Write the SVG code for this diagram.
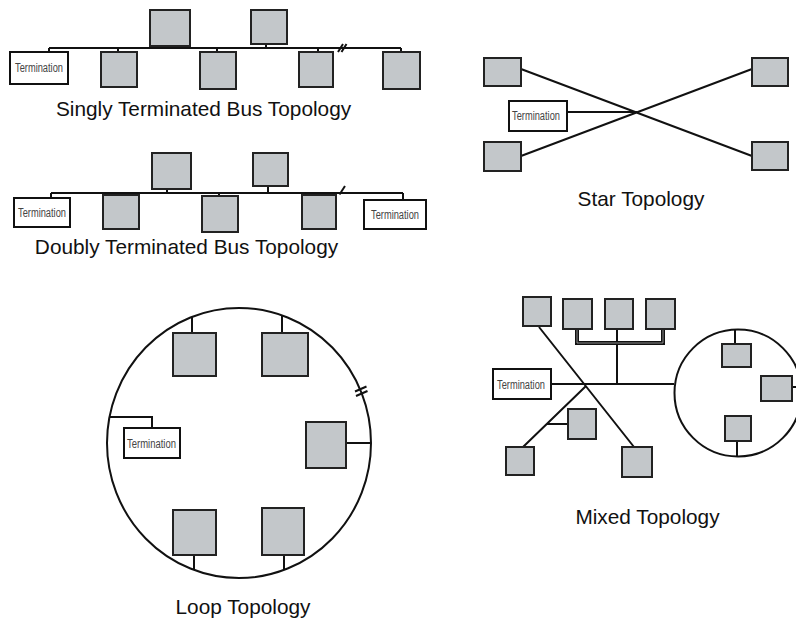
<svg xmlns="http://www.w3.org/2000/svg" width="796" height="620" viewBox="0 0 796 620">
<style>
.n{fill:#c3c7ca;stroke:#222;stroke-width:2}
.t{fill:#fff;stroke:#111;stroke-width:2}
.tt{font-family:"Liberation Sans",Arial,sans-serif;font-size:12px;fill:#444}
.c{fill:none;stroke:#111;stroke-width:2}
.cap{font-family:"Liberation Sans",Arial,sans-serif;font-size:20.8px;fill:#111;text-anchor:middle}
</style>
<rect width="796" height="620" fill="#fff"/>
<g id="connectors">
<!-- singly bus -->
<path class="c" d="M49,48H401M49,48V52M118,48V52M167,46V48M217,48V52M266,44V48M318,48V52M401,48V52"/>
<path class="c" d="M338,52L343,44M341.5,52L346.5,44" stroke-width="1.8"/>
<!-- doubly bus -->
<path class="c" d="M51,193H403M51,193V198M120,193V195M167,189V193M219,193V196M268,186V193M318,193V195M403,193V200"/>
<path class="c" d="M339.5,194.5L345,186" stroke-width="2.8"/>
<!-- star -->
<path class="c" d="M521,69L752,156M521,156L752,69M567,112H637"/>
<!-- loop -->
<ellipse class="c" cx="239" cy="443" rx="132" ry="135"/>
<path class="c" d="M192,317V333M282,315V333M346,443H371M194,555V569.5M284,555V570M109.5,417H152V428"/>
<path class="c" d="M355,391.5L366.5,386.5M356,396L367.5,391" stroke-width="1.8"/>
<!-- mixed -->
<path class="c" d="M539,327L634,447M586,386L523,447M551,384H674M617,329V384M547,424H568"/>
<path d="M577,329V343H663V329" fill="none" stroke="#111" stroke-width="4"/>
<path d="M577,329V343H663V329" fill="none" stroke="#aaa" stroke-width="0.8"/>
<circle class="c" cx="738" cy="393" r="63.5"/>
<path class="c" d="M735,329.5V344M792,387H797M737,441V456.5"/>
</g>
<!-- singly terminated bus -->
<g id="s-term"><rect class="t" x="10" y="52" width="58" height="32"/><text class="tt" x="15" y="72" textLength="48" lengthAdjust="spacingAndGlyphs">Termination</text></g>
<g id="s-a"><rect class="n" x="150" y="10" width="40" height="36"/></g>
<g id="s-b"><rect class="n" x="251" y="10" width="36" height="34"/></g>
<g id="s-1"><rect class="n" x="101" y="52" width="36" height="35"/></g>
<g id="s-2"><rect class="n" x="200" y="52" width="36" height="37"/></g>
<g id="s-3"><rect class="n" x="299" y="52" width="34" height="35"/></g>
<g id="s-4"><rect class="n" x="383" y="52" width="37" height="37"/></g>
<text class="cap" x="203.5" y="115.5">Singly Terminated Bus Topology</text>
<!-- doubly terminated bus -->
<g id="d-term1"><rect class="t" x="14" y="198" width="56" height="29"/><text class="tt" x="18" y="216.5" textLength="48" lengthAdjust="spacingAndGlyphs">Termination</text></g>
<g id="d-term2"><rect class="t" x="364" y="200" width="62" height="29"/><text class="tt" x="371" y="218.5" textLength="48" lengthAdjust="spacingAndGlyphs">Termination</text></g>
<g id="d-a"><rect class="n" x="152" y="153" width="39" height="36"/></g>
<g id="d-b"><rect class="n" x="253" y="153" width="35" height="33"/></g>
<g id="d-1"><rect class="n" x="103" y="195" width="36" height="34"/></g>
<g id="d-2"><rect class="n" x="202" y="196" width="36" height="36"/></g>
<g id="d-3"><rect class="n" x="302" y="195" width="34" height="34"/></g>
<text class="cap" x="186.5" y="254">Doubly Terminated Bus Topology</text>
<!-- star -->
<g id="st-tl"><rect class="n" x="484" y="58" width="37" height="28"/></g>
<g id="st-bl"><rect class="n" x="484" y="142" width="37" height="29"/></g>
<g id="st-tr"><rect class="n" x="752" y="58" width="36" height="28"/></g>
<g id="st-br"><rect class="n" x="752" y="142" width="36" height="28"/></g>
<g id="st-term"><rect class="t" x="509" y="101" width="58" height="30"/><text class="tt" x="512" y="120" textLength="48" lengthAdjust="spacingAndGlyphs">Termination</text></g>
<text class="cap" x="641" y="206">Star Topology</text>
<!-- loop -->
<g id="l-1"><rect class="n" x="173" y="333" width="43" height="43"/></g>
<g id="l-2"><rect class="n" x="262" y="333" width="46" height="43"/></g>
<g id="l-3"><rect class="n" x="306" y="422" width="40" height="46"/></g>
<g id="l-4"><rect class="n" x="173" y="510" width="43" height="45"/></g>
<g id="l-5"><rect class="n" x="262" y="508" width="42" height="47"/></g>
<g id="l-term"><rect class="t" x="124" y="428" width="56" height="30"/><text class="tt" x="127" y="447.5" textLength="49" lengthAdjust="spacingAndGlyphs">Termination</text></g>
<text class="cap" x="243" y="614">Loop Topology</text>
<!-- mixed -->
<g id="m-a"><rect class="n" x="523" y="297" width="28" height="29"/></g>
<g id="m-b"><rect class="n" x="563" y="299" width="29" height="30"/></g>
<g id="m-c"><rect class="n" x="605" y="299" width="28" height="30"/></g>
<g id="m-d"><rect class="n" x="646" y="299" width="29" height="30"/></g>
<g id="m-term"><rect class="t" x="493" y="369" width="58" height="30"/><text class="tt" x="497" y="388.5" textLength="48" lengthAdjust="spacingAndGlyphs">Termination</text></g>
<g id="m-mid"><rect class="n" x="568" y="409" width="28" height="30"/></g>
<g id="m-bl"><rect class="n" x="506" y="447" width="28" height="28"/></g>
<g id="m-br"><rect class="n" x="622" y="447" width="30" height="30"/></g>
<g id="m-r1"><rect class="n" x="722" y="344" width="29" height="23"/></g>
<g id="m-r2"><rect class="n" x="761" y="376" width="31" height="25"/></g>
<g id="m-r3"><rect class="n" x="725" y="416" width="26" height="25"/></g>
<text class="cap" x="647.5" y="524">Mixed Topology</text>
</svg>
